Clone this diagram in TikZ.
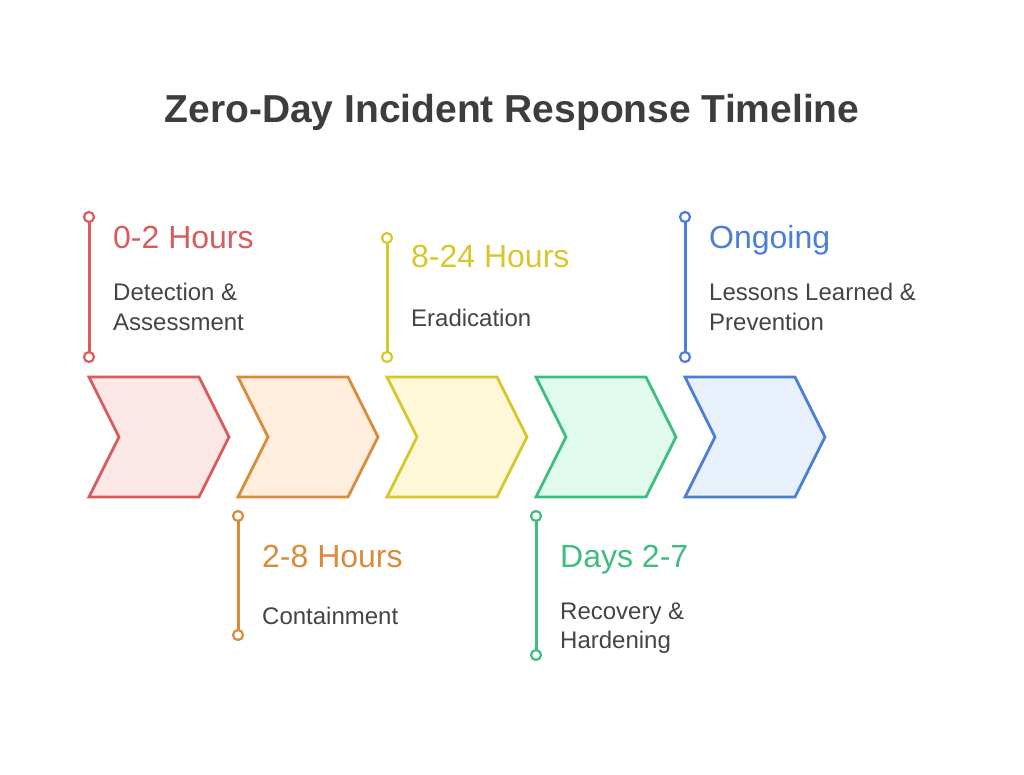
\documentclass[tikz,border=0pt]{standalone}
\usepackage{fontspec}
\setmainfont{Liberation Sans}
\definecolor{cred}{HTML}{D95B5B}
\definecolor{fred}{HTML}{FDE8E8}
\definecolor{cora}{HTML}{D98B3A}
\definecolor{fora}{HTML}{FFEEDD}
\definecolor{cyel}{HTML}{D9C62B}
\definecolor{fyel}{HTML}{FEF8D8}
\definecolor{cgre}{HTML}{3DBE7E}
\definecolor{fgre}{HTML}{E0FAEE}
\definecolor{cblu}{HTML}{4A7FD4}
\definecolor{fblu}{HTML}{E8F0FC}
\definecolor{txt}{HTML}{444444}
\definecolor{ttl}{HTML}{3D3D3D}
\tikzset{
  chev/.style={line width=2.8pt, line join=miter},
  stem/.style={line width=3pt},
  dot/.style={circle, draw, fill=white, line width=2.2pt, minimum size=10pt, inner sep=0pt},
  head/.style={anchor=base west, inner sep=0pt, font=\fontsize{32}{38}\selectfont},
  desc/.style={anchor=base west, inner sep=0pt, text=txt, font=\fontsize{24}{29}\selectfont},
}
\begin{document}
\begin{tikzpicture}[x=1pt,y=-1pt]
\useasboundingbox (0,0) rectangle (1024,775);
\node[anchor=base, inner sep=0pt, text=ttl, font=\bfseries\fontsize{39}{46}\selectfont] (title) at (512,123) {Zero-Day Incident Response Timeline};
% chevrons
\foreach \x/\c/\f/\n in {89/cred/fred/c1, 238/cora/fora/c2, 387/cyel/fyel/c3, 536/cgre/fgre/c4, 685/cblu/fblu/c5}{
  \draw[chev, draw=\c, fill=\f] (\x,377) -- ++(110,0) -- ++(30,60) -- ++(-30,60) -- ++(-110,0) -- ++(30,-60) -- cycle;
}
% stems
\foreach \x/\c/\ya/\yb/\n in {89/cred/217/357/a, 387/cyel/238/357/c, 685/cblu/217/357/e, 238/cora/516/635/b, 536/cgre/516/655/d}{
  \coordinate (t\n) at (\x,\ya);
  \coordinate (b\n) at (\x,\yb);
  \draw[stem, draw=\c] (t\n) -- (b\n);
  \node[dot, draw=\c] at (t\n) {};
  \node[dot, draw=\c] at (b\n) {};
}
% texts
\node[head, text=cred] (h1) at (113,249) {0-2 Hours};
\node[desc] (d1a) at (113,301) {Detection \&};
\node[desc] (d1b) at (113,330) {Assessment};
\node[head, text=cyel] (h3) at (411,268) {8-24 Hours};
\node[desc] (d3) at (411,326) {Eradication};
\node[head, text=cblu] (h5) at (709,249) {Ongoing};
\node[desc] (d5a) at (709,301) {Lessons Learned \&};
\node[desc] (d5b) at (709,330) {Prevention};
\node[head, text=cora] (h2) at (262,567) {2-8 Hours};
\node[desc] (d2) at (262,624) {Containment};
\node[head, text=cgre] (h4) at (560,567) {Days 2-7};
\node[desc] (d4a) at (560,619) {Recovery \&};
\node[desc] (d4b) at (560,648) {Hardening};
\end{tikzpicture}
\end{document}
